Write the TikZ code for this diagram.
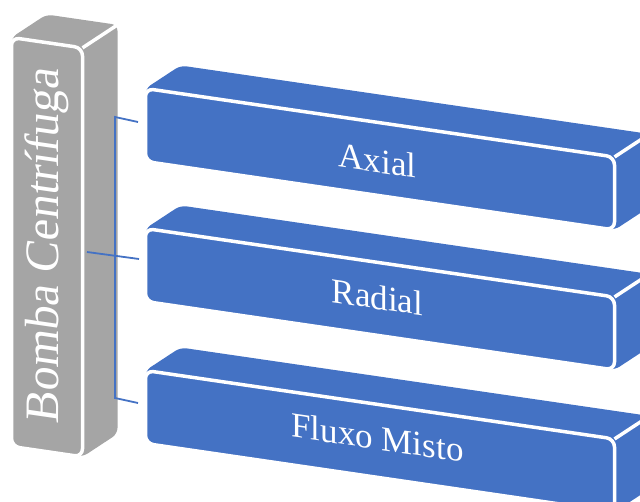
\documentclass[tikz,border=0pt]{standalone}
\usepackage{fontspec}
\setmainfont{Liberation Serif}
\usetikzlibrary{calc}
\definecolor{boxblue}{HTML}{4472C4}
\definecolor{boxgray}{HTML}{A5A5A5}
\tikzset{
  face edge/.style={draw=white, line width=3.5pt, line join=round},
  link/.style={draw=boxblue, line width=1.8pt},
  boxlabel/.style={text=white, font=\fontsize{35}{35}\selectfont,
    yslant=-0.146, anchor=base, inner sep=0pt},
}
% slab in oblique projection: x, y (top-left of front face), width, height, colour, name
\newcommand{\slabbox}[6]{%
  \coordinate (#6-tl) at (#1,#2);
  \coordinate (#6-tr) at (#1+#3,#2+0.146*#3);
  \coordinate (#6-br) at (#1+#3,#2+0.146*#3+#4);
  \coordinate (#6-bl) at (#1,#2+#4);
  \fill[#5, rounded corners=6pt] (#6-bl) -- (#6-tl) -- ($(#6-tl)+(35,-23)$)
    -- ($(#6-tr)+(35,-23)$) -- ($(#6-br)+(35,-23)$) -- (#6-br) -- cycle;
  \draw[face edge, fill=#5, rounded corners=8pt]
    (#6-tl) -- (#6-tr) -- (#6-br) -- (#6-bl) -- cycle;
  \draw[face edge] (#6-tr) -- ($(#6-tr)+(35,-23)$);
}
\begin{document}
\begin{tikzpicture}[x=1pt, y=-1pt]
\useasboundingbox (0,0) rectangle (640,502);
\clip (0,0) rectangle (640,502);

% parent column
\slabbox{11.5}{37.5}{71}{409}{boxgray}{pump}
\node[text=white, font=\fontsize{48}{48}\selectfont,
  cm={0,1,-1,0.146,(0,0)}, anchor=base, inner sep=0pt]
  (title) at (58.5,247) {Bomba Centrífuga};

% connectors
\coordinate (stem-top) at (115,117);
\coordinate (stem-mid) at (87,252);
\coordinate (stem-bot) at (115,398);
\coordinate (in-axial) at (138,122);
\coordinate (in-radial) at (139,259);
\coordinate (in-fluxo) at (138,403);
\draw[link] (in-axial) -- (stem-top) -- (stem-bot) -- (in-fluxo);
\draw[link] (stem-mid) -- (in-radial);

% child slabs
\slabbox{145.5}{88.5}{469}{73}{boxblue}{axial}
\slabbox{145.5}{228.5}{469}{73}{boxblue}{radial}
\slabbox{145.5}{370.5}{469}{73}{boxblue}{fluxo}

\node[boxlabel] (t-axial) at (377.5,172.5) {Axial};
\node[boxlabel] (t-radial) at (377.5,309) {Radial};
\node[boxlabel] (t-fluxo) at (377.5,449.5) {Fluxo Misto};
\end{tikzpicture}
\end{document}
